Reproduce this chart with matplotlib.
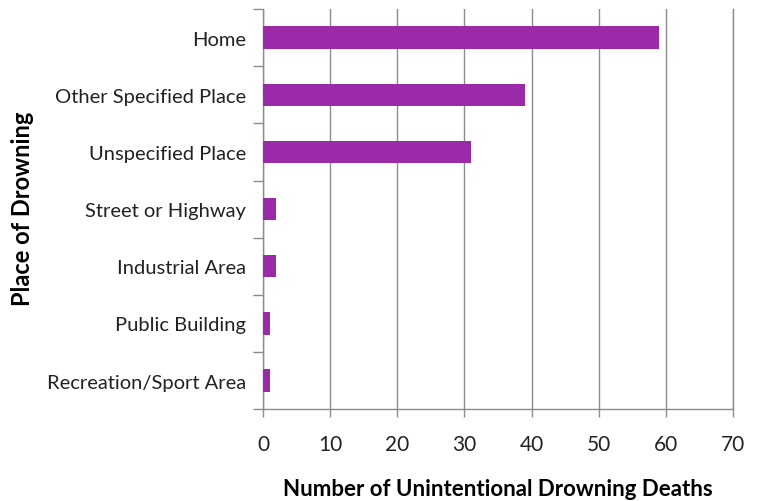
import matplotlib
matplotlib.use("Agg")
import matplotlib.pyplot as plt
import numpy as np

categories = ["Home", "Other Specified Place", "Unspecified Place", "Street or Highway",
              "Industrial Area", "Public Building", "Recreation/Sport Area"]
deaths = [59, 39, 31, 2, 2, 1, 1]
xticks = [0, 10, 20, 30, 40, 50, 60, 70]

plt.rcParams['font.family'] = ['Lato', 'DejaVu Sans']

fig = plt.figure(figsize=(7.59, 5.02), dpi=100)
ax = fig.add_axes([0.3465, 0.183, 0.6192, 0.797])

n = len(categories)
ypos = np.arange(n)[::-1]
ax.barh(ypos, deaths, height=0.39, color="#9B2AA8", zorder=3)

ax.set_xlim(0, 70)
ax.set_ylim(-0.5, n - 0.5)
ax.set_xticks(xticks)
ax.set_xticklabels([str(t) for t in xticks], fontsize=15, color="#222222")
ax.xaxis.grid(True, color="#8c8c8c", linewidth=1.0, zorder=0)
ax.axvline(70, color="#8c8c8c", linewidth=1.0, clip_on=False, zorder=0)

ax.set_yticks(ypos)
ax.set_yticklabels(categories, fontsize=14.5, color="#222222")
ax.tick_params(axis='y', which='major', length=0, pad=12)
ax.set_yticks(np.arange(-0.5, n, 1.0), minor=True)
ax.tick_params(axis='y', which='minor', length=7, color="#8c8c8c", width=1)
ax.tick_params(axis='x', which='major', length=6, color="#8c8c8c", width=1, pad=12)

for s in ["top", "right"]:
    ax.spines[s].set_visible(False)
for s in ["left", "bottom"]:
    ax.spines[s].set_color("#8c8c8c")
    ax.spines[s].set_linewidth(1.0)

ax.set_xlabel("Number of Unintentional Drowning Deaths", fontsize=16, fontweight="bold", labelpad=17)
fig.text(0.03, 0.584, "Place of Drowning", rotation=90, fontsize=17, fontweight="bold",
         ha="center", va="center")

fig.savefig("out.png", dpi=100)
